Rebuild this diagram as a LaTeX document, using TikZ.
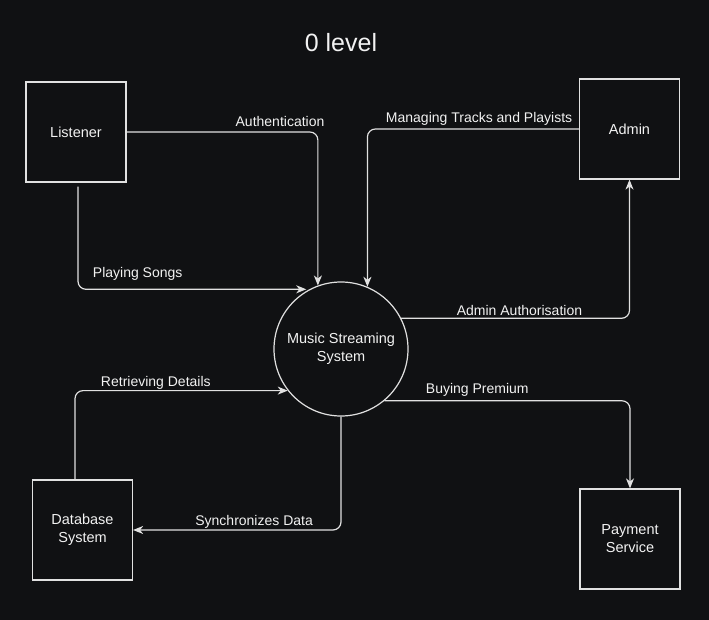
\documentclass[tikz,border=0pt]{standalone}
\usepackage{fontspec}
\setmainfont{Liberation Sans}
\usetikzlibrary{arrows.meta}

\definecolor{bgdark}{RGB}{16,17,19}
\definecolor{lnlight}{RGB}{225,225,225}
\definecolor{txlight}{RGB}{242,242,242}

\begin{document}
\begin{tikzpicture}[
  x=1pt, y=-1pt,
  >={Stealth[length=10pt,width=8pt,inset=3pt]},
  entity/.style={draw=lnlight, line width=1.2pt, minimum size=100pt, inner sep=0pt,
    text=txlight, align=center, font=\fontsize{14.5}{18}\selectfont},
  process/.style={entity, circle, minimum size=134pt},
  flow/.style={->, draw=lnlight, line width=1.2pt, rounded corners=8pt},
  elabel/.style={text=txlight, inner sep=0pt, text height=10pt, text depth=0pt,
    font=\fontsize{14}{16}\selectfont}
  ]
\fill [bgdark] (0,0) rectangle (709,620);
\useasboundingbox (0,0) rectangle (709,620);
\node [text=txlight, font=\fontsize{25}{30}\selectfont] (title) at (341,43) {0 level};
\node [entity] (listener) at (76,132) {Listener};
\node [entity] (admin) at (629.5,129) {Admin};
\node [process] (msys) at (341,349) {Music Streaming\\System};
\node [entity] (db) at (82.5,530) {Database\\System};
\node [entity] (payment) at (630,539) {Payment\\Service};
\draw [flow] (listener.east) -| (msys.110)
  node [elabel, pos=.401, yshift=10pt] {Authentication};
\draw [flow, shorten <=4pt, shorten >=3pt] ([xshift=2pt]listener.south) |- (msys.118)
  node [elabel, pos=.629, yshift=17pt] {Playing Songs};
\draw [flow] (admin.west) -| (msys.67)
  node [elabel, pos=.236, yshift=11pt] {Managing Tracks and Playists};
\draw [flow] (msys.27) -| (admin.south)
  node [elabel, pos=.259, yshift=8pt] {Admin Authorisation};
\draw [flow] (msys.-50) -| (payment.north)
  node [elabel, pos=.189, yshift=12pt] {Buying Premium};
\draw [flow] ([xshift=-7.5pt]db.north) |- (msys.218)
  node [elabel, pos=.69, yshift=9pt] {Retrieving Details};
\draw [flow] (msys.south) |- (db.east)
  node [elabel, pos=.709, yshift=10pt] {Synchronizes Data};
\end{tikzpicture}
\end{document}
